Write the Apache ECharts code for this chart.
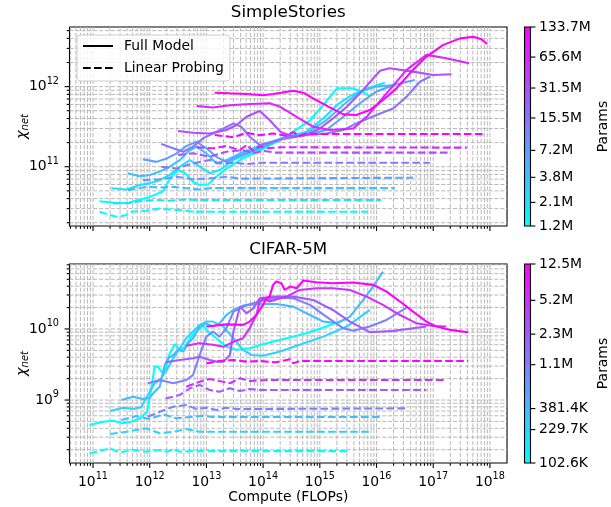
<!DOCTYPE html>
<html><head><meta charset="utf-8">
<script src="https://cdn.jsdelivr.net/npm/echarts@6/dist/echarts.min.js"></script>
<style>html,body{margin:0;padding:0;background:#fff}#c{width:611px;height:507px}</style>
</head><body><div id="c"></div><script>
const FONT = 'DejaVu Sans';
const FS = 13.9;
const GRID_COLOR = '#b9b9b9';
const LW = 2.08;

// ---------------- SimpleStories ----------------
const ssParams = [1.2e6, 2.1e6, 3.8e6, 7.2e6, 15.5e6, 31.5e6, 65.6e6, 133.7e6];
const ssParamLabels = ['1.2M', '2.1M', '3.8M', '7.2M', '15.5M', '31.5M', '65.6M', '133.7M'];

const ssFull_1_2M = [[1.3e11,3.7e10],[2.4e11,3.55e10],[4.1e11,3.5e10],[5.8e11,3.8e10],[1e12,4.2e10],[1.7e12,4.9e10],[2.4e12,7.5e10],[3.2e12,9.1e10],[4.2e12,8.3e10],[5.8e12,6.5e10],[7.6e12,5.9e10],[1.07e13,6e10],[1.5e13,7.5e10],[2.25e13,9.5e10],[4.4e13,1.27e11],[8.7e13,1.58e11],[1.7e14,2.05e11],[3.4e14,2.75e11],[6.7e14,3.8e11],[1.15e15,5.9e11],[2e15,9.5e11],[3.9e15,9.5e11],[5.4e15,8.7e11],[7.6e15,7.6e11]];
const ssFull_2_1M = [[2.1e11,5.4e10],[3.9e11,5.2e10],[6.7e11,5.9e10],[1e12,6.2e10],[1.5e12,6.8e10],[2.25e12,7.9e10],[3.4e12,1e11],[5.1e12,1.21e11],[7.6e12,1e11],[1.15e13,8.3e10],[1.72e13,9.1e10],[2.96e13,1.21e11],[5.8e13,1.47e11],[1.15e14,1.81e11],[2.6e14,2.37e11],[5.8e14,2.74e11],[1.15e15,4e11],[2e15,5.9e11],[3.4e15,7.6e11],[6.7e15,9.5e11],[1.4e16,1.12e12]];
const ssFull_3_8M = [[4.1e11,8.3e10],[6.7e11,7.6e10],[1e12,7.9e10],[1.5e12,8.7e10],[2.25e12,1e11],[3.4e12,1.21e11],[4.7e12,1.54e11],[6.7e12,1.78e11],[1e13,1.47e11],[1.5e13,1.1e11],[2.25e13,1.21e11],[3.9e13,1.47e11],[6.7e13,1.7e11],[1.15e14,1.96e11],[2.6e14,2.37e11],[5.8e14,2.6e11],[1.3e15,3.8e11],[2.6e15,5.9e11],[5.1e15,8.7e11],[1e16,1e12],[2.1e16,1.05e12]];
const ssFull_7_2M = [[7.6e11,1.24e11],[1.3e12,1.15e11],[2e12,1.27e11],[3e12,1.47e11],[4.4e12,1.81e11],[6.7e12,2.05e11],[1e13,1.7e11],[1.5e13,1.33e11],[2.25e13,1.15e11],[3.4e13,1.33e11],[5.8e13,1.54e11],[1.15e14,1.87e11],[2.6e14,2.37e11],[5.8e14,2.49e11],[1.3e15,2.87e11],[2.6e15,4.2e11],[5.1e15,6.2e11],[1e16,8.7e11],[2e16,1.05e12],[4.7e16,1.21e12]];
const ssFull_15_5M = [[1.6e12,1.92e11],[2.6e12,1.7e11],[3.9e12,1.54e11],[5.8e12,1.78e11],[8.7e12,2.26e11],[1.3e13,2.6e11],[2e13,3e11],[3e13,3.48e11],[4.1e13,3.16e11],[5.8e13,2.37e11],[8.7e13,1.87e11],[1.3e14,2e11],[2.6e14,2.26e11],[5.8e14,2.49e11],[1.3e15,2.6e11],[2.6e15,2.87e11],[5.1e15,3.65e11],[1e16,4.43e11],[2e16,5.36e11],[3.4e16,7.5e11],[5.8e16,1.15e12],[8.7e16,1.33e12]];
const ssFull_31_5M = [[3.16e12,2.79e11],[5.8e12,2.66e11],[1.15e13,2.6e11],[2.25e13,2.87e11],[3.4e13,3.32e11],[5.1e13,4.2e11],[8.7e13,4.97e11],[1.3e14,3.83e11],[2e14,2.74e11],[3.4e14,2.37e11],[5.8e14,2.49e11],[1e15,3e11],[1.7e15,4e11],[3e15,5.6e11],[5.8e15,9.1e11],[1.15e16,1.58e12],[1.7e16,1.7e12],[4.4e16,1.54e12],[1e17,1.4e12],[2.1e17,1.43e12]];
const ssFull_65_6M = [[6.7e12,5.73e11],[1.3e13,5.5e11],[2.6e13,5.84e11],[5.8e13,6.07e11],[1.3e14,6.2e11],[2e14,5.6e11],[3.9e14,4.2e11],[7.6e14,3.16e11],[1.5e15,2.87e11],[3.9e15,3e11],[6.7e15,4.2e11],[1.5e16,8.25e11],[3.4e16,1.62e12],[7.6e16,2.49e12],[1.7e17,2.26e12],[4.3e17,1.96e12]];
const ssFull_133_7M = [[1.4e13,8.4e11],[2.6e13,8.25e11],[5.1e13,8.1e11],[1e14,7.8e11],[1.5e14,8.1e11],[3.4e14,8.9e11],[5.1e14,8.4e11],[7.6e14,7.15e11],[1.5e15,5.5e11],[2.6e15,4.5e11],[4.4e15,4.43e11],[7.6e15,5.1e11],[1.3e16,6.8e11],[2.25e16,9.5e11],[4.4e16,1.62e12],[7.6e16,2.37e12],[1.5e17,3.32e12],[3e17,4e12],[5.1e17,4.2e12],[7.1e17,3.9e12],[8.9e17,3.4e12]];

const ssProbe_1_2M = [[1.3e11,2.74e10],[2e11,2.49e10],[2.6e11,2.37e10],[3.9e11,2.49e10],[4.7e11,2.74e10],[8.7e11,2.82e10],[1.5e12,3e10],[2.25e12,2.93e10],[3.9e12,2.87e10],[5.8e12,2.74e10],[7.1e15,2.74e10]];
const ssProbe_2_1M = [[2.25e11,3.48e10],[4.4e11,3.55e10],[7.6e11,3.73e10],[1.3e12,3.83e10],[2.25e12,3.76e10],[4.4e12,3.9e10],[7.6e12,3.83e10],[1.2e16,3.83e10]];
const ssProbe_3_8M = [[4.1e11,5.1e10],[8.7e11,5.6e10],[1.5e12,5.5e10],[2.6e12,5.6e10],[4.4e12,5.4e10],[7.6e12,5.2e10],[1.15e13,5.4e10],[2.1e16,5.4e10]];
const ssProbe_7_2M = [[7.6e11,6.8e10],[1.5e12,6.95e10],[3e12,7.5e10],[5.8e12,6.95e10],[1.15e13,7.15e10],[2.25e13,7.5e10],[3.9e13,7.1e10],[4.4e16,7.3e10]];
const ssProbe_15_5M = [[1.6e12,1e11],[3e12,9.5e10],[5.8e12,1.1e11],[1.15e13,1.21e11],[1.7e13,1.1e11],[3e13,1.12e11],[5.1e13,1.08e11],[8.7e13,1.12e11],[8.7e16,1.12e11]];
const ssProbe_31_5M = [[3.16e12,1.4e11],[5.8e12,1.47e11],[1.15e13,1.33e11],[2.25e13,1.54e11],[4.4e13,1.61e11],[6.7e13,1.47e11],[1e14,1.58e11],[1.7e14,1.5e11],[2e17,1.5e11]];
const ssProbe_65_6M = [[6.7e12,1.75e11],[1.3e13,1.7e11],[2.25e13,1.81e11],[3.9e13,1.61e11],[5.1e13,1.87e11],[6.7e13,1.58e11],[8.7e13,1.81e11],[1.15e14,1.7e11],[2e14,1.75e11],[3.9e17,1.73e11]];
const ssProbe_133_7M = [[1.4e13,2.49e11],[3e13,2.33e11],[5.1e13,2.66e11],[8.7e13,2.47e11],[1.5e14,2.6e11],[2.6e14,2.43e11],[3.4e14,2.7e11],[4.4e14,2.43e11],[5.8e14,2.6e11],[7.6e14,2.56e11],[8.2e17,2.56e11]];

const ssFull = [ssFull_1_2M, ssFull_2_1M, ssFull_3_8M, ssFull_7_2M, ssFull_15_5M, ssFull_31_5M, ssFull_65_6M, ssFull_133_7M];
const ssProbe = [ssProbe_1_2M, ssProbe_2_1M, ssProbe_3_8M, ssProbe_7_2M, ssProbe_15_5M, ssProbe_31_5M, ssProbe_65_6M, ssProbe_133_7M];

// ---------------- CIFAR-5M ----------------
const cfParams = [102.6e3, 229.7e3, 381.4e3, 1.1e6, 2.3e6, 5.2e6, 12.5e6];
const cfParamLabels = ['102.6K', '229.7K', '381.4K', '1.1M', '2.3M', '5.2M', '12.5M'];

const cfFull_102_6K = [[8.7e10,4.45e8],[1.5e11,4.95e8],[2.25e11,5.1e8],[3.4e11,4.7e8],[4.7e11,4.95e8],[6.7e11,5.5e8],[9e11,6.85e8],[1.07e12,1.46e9],[1.22e12,2.95e9],[1.4e12,2.95e9],[1.6e12,2.5e9],[1.9e12,2.65e9],[2.25e12,4.5e9],[2.76e12,6.1e9],[3.4e12,5.1e9],[4.15e12,5.6e9],[5.4e12,7.8e9],[7.1e12,9.7e9],[8.7e12,1.11e10],[1.07e13,9.2e9],[1.5e13,7.4e9],[2.25e13,5.6e9],[3.4e13,5.1e9],[5.8e13,5.35e9],[1.15e14,6.3e9],[2.6e14,7.4e9],[5.8e14,8.7e9],[1.3e15,1.08e10],[3.16e15,1.41e10]];
const cfFull_229_7K = [[2e11,7e8],[3.4e11,7.8e8],[5.1e11,7.5e8],[7.1e11,8e8],[9.3e11,1.18e9],[1.22e12,1.72e9],[1.5e12,1.91e9],[2e12,2.65e9],[2.6e12,3.86e9],[3.4e12,5.35e9],[4.4e12,7.4e9],[5.8e12,9.2e9],[7.6e12,1.14e10],[1e13,1.27e10],[1.3e13,1.27e10],[2e13,1.08e10],[3e13,7.4e9],[4.4e13,5.1e9],[6.2e13,4.3e9],[1e14,4.2e9],[2e14,4.8e9],[4.4e14,6e9],[1.15e15,7.8e9],[3e15,1.08e10],[7.6e15,1.85e10]];
const cfFull_381_4K = [[3.16e11,1e9],[5.1e11,1.11e9],[7.6e11,1.03e9],[1e12,1.08e9],[1.22e12,1.31e9],[1.5e12,1.54e9],[1.84e12,3.1e9],[2.1e12,3.86e9],[2.6e12,4.3e9],[3.16e12,5.1e9],[3.9e12,4.8e9],[4.75e12,6.3e9],[5.8e12,7.4e9],[7.6e12,1.08e10],[1e13,1.2e10],[1.3e13,1.08e10],[1.7e13,1.2e10],[2.25e13,1.57e10],[3e13,1.85e10],[4.4e13,2.13e10],[8.7e13,2.25e10],[1.7e14,2.25e10],[3.4e14,2.06e10],[6.7e14,1.57e10],[1.15e15,1.27e10],[2e15,1.2e10],[3.4e15,1.49e10],[5.8e15,2.56e10],[8.7e15,3.95e10],[1.3e16,6.4e10]];
const cfFull_1_1M = [[9.3e11,1.72e9],[1.5e12,1.91e9],[2.6e12,1.72e9],[4.4e12,1.91e9],[5.8e12,2.25e9],[7.6e12,4.3e9],[1e13,7.8e9],[1.3e13,9.2e9],[1.7e13,7.8e9],[2.25e13,1.02e10],[3e13,1.75e10],[3.9e13,1.95e10],[5.1e13,2.18e10],[8.7e13,2.43e10],[1.7e14,2.76e10],[3.4e14,2.7e10],[6.7e14,2.18e10],[1.3e15,1.49e10],[2.6e15,1.02e10],[3.9e15,9.4e9],[7.6e15,1.08e10],[1.5e16,1.34e10],[3.4e16,2e10]];
const cfFull_2_3M = [[1.9e12,3.4e9],[3.4e12,3.66e9],[5.8e12,3.86e9],[7.6e12,4.07e9],[1.15e13,3.66e9],[1.5e13,3.47e9],[2e13,3.47e9],[2.6e13,4.3e9],[3e13,9.2e9],[3.9e13,2.06e10],[5.1e13,1.66e10],[6.7e13,1.95e10],[8.7e13,2.7e10],[1.5e14,2.85e10],[3.4e14,2.85e10],[7.6e14,2.56e10],[1.7e15,1.85e10],[3.4e15,1.27e10],[7.6e15,9e9],[2e16,9.4e9],[7.6e16,1.08e10]];
const cfFull_5_2M = [[4.4e12,5.8e9],[7.6e12,6.3e9],[1.3e13,6e9],[2e13,5.6e9],[3e13,6.6e9],[4.4e13,7.4e9],[5.8e13,1.02e10],[7.6e13,1.57e10],[8.7e13,2.43e10],[1e14,2.7e10],[1.3e14,2.43e10],[2e14,2.7e10],[2.6e14,2.85e10],[4.4e14,3.54e10],[8.7e14,3.74e10],[1.7e15,3.74e10],[3.4e15,3.54e10],[6.7e15,2.85e10],[1.3e16,2.18e10],[2.6e16,1.57e10],[5.1e16,1.2e10],[1e17,1.1e10],[1.7e17,1.08e10]];
const cfFull_12_5M = [[1e13,1.08e10],[2.25e13,1.16e10],[4.4e13,1.14e10],[5.8e13,1.27e10],[7.6e13,1.57e10],[1e14,2.18e10],[1.15e14,2.7e10],[1.3e14,2.85e10],[1.5e14,4.17e10],[1.7e14,4.64e10],[2.1e14,4.4e10],[2.4e14,3.54e10],[3e14,3.95e10],[3.9e14,3.74e10],[5.1e14,4.8e10],[8.7e14,4.54e10],[1.7e15,4.4e10],[3.9e15,4.5e10],[8.7e15,4.17e10],[1.5e16,3.36e10],[2.6e16,2.43e10],[4.4e16,1.75e10],[7.6e16,1.27e10],[1.15e17,1.08e10],[2e17,9.7e9],[4.15e17,9e9]];

const cfProbe_102_6K = [[8.7e10,1.77e8],[1.5e11,1.98e8],[2e11,2.08e8],[2.96e11,1.83e8],[5.1e11,1.98e8],[8.7e11,1.87e8],[1.5e12,1.98e8],[2e12,1.87e8],[2.6e12,2.04e8],[3.4e12,1.87e8],[5.8e12,1.91e8],[3.16e15,1.91e8]];
const cfProbe_229_7K = [[2e11,3.32e8],[3.9e11,3.58e8],[8.7e11,3.99e8],[1.5e12,3.4e8],[2.6e12,3.58e8],[4.4e12,3.9e8],[7.6e12,3.58e8],[7.6e15,3.58e8]];
const cfProbe_381_4K = [[3.16e11,5.23e8],[5.8e11,5.96e8],[1e12,5.4e8],[1.72e12,6.28e8],[2.96e12,5.52e8],[5.8e12,5.82e8],[8.7e12,6e8],[1.3e13,5.77e8],[1.3e16,5.77e8]];
const cfProbe_1_1M = [[9.3e11,5.82e8],[1.5e12,6.85e8],[2.6e12,8.05e8],[4.4e12,8.5e8],[6.7e12,7.46e8],[1e13,7.8e8],[1.5e13,7.23e8],[2.25e13,7.8e8],[3.4e13,7.46e8],[3.4e16,7.64e8]];
const cfProbe_2_3M = [[1.9e12,1.05e9],[3.4e12,1.18e9],[5.1e12,1.46e9],[7.6e12,1.63e9],[1.15e13,1.38e9],[1.7e13,1.31e9],[2.6e13,1.46e9],[3.9e13,1.34e9],[5.8e13,1.43e9],[8.7e13,1.38e9],[7.6e16,1.38e9]];
const cfProbe_5_2M = [[4.4e12,1.54e9],[7.6e12,1.81e9],[1.15e13,1.98e9],[1.7e13,1.85e9],[2.6e13,1.72e9],[3.9e13,2.02e9],[5.8e13,1.85e9],[1.15e14,1.91e9],[1.7e17,1.91e9]];
const cfProbe_12_5M = [[1e13,3.28e9],[1.7e13,3.54e9],[3e13,3.66e9],[5.1e13,3.47e9],[8.7e13,3.54e9],[1.7e14,3.4e9],[3e14,3.75e9],[3.4e14,3.28e9],[4.4e14,3.54e9],[4.15e17,3.54e9]];

const cfFull = [cfFull_102_6K, cfFull_229_7K, cfFull_381_4K, cfFull_1_1M, cfFull_2_3M, cfFull_5_2M, cfFull_12_5M];
const cfProbe = [cfProbe_102_6K, cfProbe_229_7K, cfProbe_381_4K, cfProbe_1_1M, cfProbe_2_3M, cfProbe_5_2M, cfProbe_12_5M];

// ---------------- axes / ticks ----------------
const xTickValues = [1e11, 1e12, 1e13, 1e14, 1e15, 1e16, 1e17, 1e18];
const xTickExps = ['11', '12', '13', '14', '15', '16', '17', '18'];
const ssYTickValues = [1e11, 1e12];
const ssYTickExps = ['11', '12'];
const cfYTickValues = [1e9, 1e10];
const cfYTickExps = ['9', '10'];

const X_MIN = 3.85e10, X_MAX = 2.0e18;
const SS_Y_MIN = 1.82e10, SS_Y_MAX = 5.55e12;
const CF_Y_MIN = 1.3e8, CF_Y_MAX = 8.2e10;

function minorTicks(min, max) {
  const out = [];
  for (let e = Math.floor(Math.log10(min)); e <= Math.ceil(Math.log10(max)); e++) {
    for (let m = 2; m <= 9; m++) {
      const v = m * Math.pow(10, e);
      if (v > min * 1.002 && v < max * 0.998) out.push(v);
    }
  }
  return out;
}

function coolColor(p, params) {
  const t = Math.log(p / params[0]) / Math.log(params[params.length - 1] / params[0]);
  return 'rgb(' + Math.round(255 * t) + ',' + Math.round(255 * (1 - t)) + ',255)';
}

const supRich = {
  b: { fontSize: FS, fontFamily: FONT, fill: '#000' },
  s: { fontSize: 9.7, fontFamily: FONT, fill: '#000', padding: [0, 0, 11, 0] }
};
const GRID_STYLE = { stroke: GRID_COLOR, lineWidth: 1.0, lineDash: [4.1, 1.8] };
const TICK_STYLE = { stroke: '#000', lineWidth: 1.1 };

function xFrame(gi, yRef, showLabels) {
  const items = xTickValues.map((v, i) => ({ v: v, major: true, exp: xTickExps[i] }))
    .concat(minorTicks(X_MIN, X_MAX).map(v => ({ v: v, major: false })));
  return {
    type: 'custom', xAxisIndex: gi, yAxisIndex: gi, silent: true, clip: false, z: 1, animation: false,
    data: items.map(o => [o.v, yRef]),
    renderItem: function (params, api) {
      const o = items[params.dataIndex];
      const cs = params.coordSys;
      const x = api.coord([o.v, yRef])[0];
      const bottom = cs.y + cs.height;
      const len = o.major ? 4.9 : 2.8;
      const ch = [
        { type: 'line', shape: { x1: x, y1: cs.y, x2: x, y2: bottom }, style: GRID_STYLE },
        { type: 'line', shape: { x1: x, y1: bottom, x2: x, y2: bottom + len }, style: TICK_STYLE }
      ];
      if (o.major && showLabels) {
        ch.push({ type: 'text', x: x, y: bottom + 19, style: { text: '{b|10}{s|' + o.exp + '}', rich: supRich, align: 'center', verticalAlign: 'middle' } });
      }
      return { type: 'group', children: ch };
    }
  };
}

function yFrame(gi, ymin, ymax, majors, exps) {
  const items = majors.map((v, i) => ({ v: v, major: true, exp: exps[i] }))
    .concat(minorTicks(ymin, ymax).map(v => ({ v: v, major: false })));
  return {
    type: 'custom', xAxisIndex: gi, yAxisIndex: gi, silent: true, clip: false, z: 1, animation: false,
    data: items.map(o => [X_MIN, o.v]),
    renderItem: function (params, api) {
      const o = items[params.dataIndex];
      const cs = params.coordSys;
      const y = api.coord([X_MIN, o.v])[1];
      const len = o.major ? 4.9 : 2.8;
      const ch = [
        { type: 'line', shape: { x1: cs.x, y1: y, x2: cs.x + cs.width, y2: y }, style: GRID_STYLE },
        { type: 'line', shape: { x1: cs.x - len, y1: y, x2: cs.x, y2: y }, style: TICK_STYLE }
      ];
      if (o.major) {
        ch.push({ type: 'text', x: cs.x - 10.5, y: y, style: { text: '{b|10}{s|' + o.exp + '}', rich: supRich, align: 'right', verticalAlign: 'middle' } });
      }
      return { type: 'group', children: ch };
    }
  };
}

function colorbar(gi, params, labels) {
  return [
    {
      type: 'custom', xAxisIndex: gi, yAxisIndex: gi, silent: true, clip: false, z: 1, animation: false,
      data: [[0.5, params[0]]],
      renderItem: function (p, api) {
        const cs = p.coordSys;
        return {
          type: 'rect', shape: { x: cs.x, y: cs.y, width: cs.width, height: cs.height },
          style: {
            fill: new echarts.graphic.LinearGradient(0, 1, 0, 0, [{ offset: 0, color: 'rgb(0,255,255)' }, { offset: 1, color: 'rgb(255,0,255)' }]),
            stroke: '#000', lineWidth: 1.1
          }
        };
      }
    },
    {
      type: 'custom', xAxisIndex: gi, yAxisIndex: gi, silent: true, clip: false, z: 2, animation: false,
      data: params.map(v => [1, v]),
      renderItem: function (p, api) {
        const cs = p.coordSys;
        const y = api.coord([1, params[p.dataIndex]])[1];
        const xr = cs.x + cs.width;
        return {
          type: 'group', children: [
            { type: 'line', shape: { x1: xr, y1: y, x2: xr + 4.9, y2: y }, style: TICK_STYLE },
            { type: 'text', x: xr + 8.6, y: y, style: { text: labels[p.dataIndex], fontSize: FS, fontFamily: FONT, fill: '#000', align: 'left', verticalAlign: 'middle' } }
          ]
        };
      }
    }
  ];
}

function lineSeries(gi, data, color, dashed, name) {
  return {
    type: 'line', name: name, xAxisIndex: gi, yAxisIndex: gi, data: data,
    symbol: 'none', showSymbol: false, silent: true, animation: false, z: 3,
    lineStyle: { width: LW, color: color, type: dashed ? [7.7, 3.3] : 'solid' },
    itemStyle: { color: color },
    emphasis: { disabled: true }
  };
}

const series = [];
series.push(xFrame(0, SS_Y_MIN, false));
series.push(yFrame(0, SS_Y_MIN, SS_Y_MAX, ssYTickValues, ssYTickExps));
series.push(xFrame(1, CF_Y_MIN, true));
series.push(yFrame(1, CF_Y_MIN, CF_Y_MAX, cfYTickValues, cfYTickExps));
colorbar(2, ssParams, ssParamLabels).forEach(s => series.push(s));
colorbar(3, cfParams, cfParamLabels).forEach(s => series.push(s));

ssParams.forEach((p, i) => {
  const c = coolColor(p, ssParams);
  series.push(lineSeries(0, ssFull[i], c, false, 'ss-full-' + ssParamLabels[i]));
  series.push(lineSeries(0, ssProbe[i], c, true, 'ss-probe-' + ssParamLabels[i]));
});
cfParams.forEach((p, i) => {
  const c = coolColor(p, cfParams);
  series.push(lineSeries(1, cfFull[i], c, false, 'cf-full-' + cfParamLabels[i]));
  series.push(lineSeries(1, cfProbe[i], c, true, 'cf-probe-' + cfParamLabels[i]));
});
series.push(lineSeries(0, [], '#000', false, 'Full Model'));
series.push(lineSeries(0, [], '#000', true, 'Linear Probing'));

const chiRich = {
  c: { fontSize: 14.5, fontStyle: 'italic', fontFamily: FONT, fill: '#000' },
  n: { fontSize: 10, fontStyle: 'italic', fontFamily: FONT, fill: '#000', padding: [7, 0, 0, 0] }
};

const option = {
  backgroundColor: '#fff',
  animation: false,
  textStyle: { fontFamily: FONT },
  grid: [
    { left: 69.5, top: 27, width: 437.5, height: 199, show: true, borderColor: '#000', borderWidth: 1.1, backgroundColor: 'transparent', containLabel: false },
    { left: 69.5, top: 264, width: 437.5, height: 199, show: true, borderColor: '#000', borderWidth: 1.1, backgroundColor: 'transparent', containLabel: false },
    { left: 524.5, top: 27, width: 6, height: 199, show: false },
    { left: 524.5, top: 264, width: 6, height: 199, show: false }
  ],
  xAxis: [
    { gridIndex: 0, type: 'log', logBase: 10, min: X_MIN, max: X_MAX, show: false },
    { gridIndex: 1, type: 'log', logBase: 10, min: X_MIN, max: X_MAX, show: false },
    { gridIndex: 2, type: 'value', min: 0, max: 1, show: false },
    { gridIndex: 3, type: 'value', min: 0, max: 1, show: false }
  ],
  yAxis: [
    { gridIndex: 0, type: 'log', logBase: 10, min: SS_Y_MIN, max: SS_Y_MAX, show: false },
    { gridIndex: 1, type: 'log', logBase: 10, min: CF_Y_MIN, max: CF_Y_MAX, show: false },
    { gridIndex: 2, type: 'log', logBase: 10, min: ssParams[0], max: ssParams[ssParams.length - 1], show: false },
    { gridIndex: 3, type: 'log', logBase: 10, min: cfParams[0], max: cfParams[cfParams.length - 1], show: false }
  ],
  legend: {
    data: ['Full Model', 'Linear Probing'],
    left: 77, top: 35, orient: 'vertical',
    padding: [4, 6, 6, 5], itemGap: 8, itemWidth: 30, itemHeight: 14,
    backgroundColor: 'rgba(255,255,255,0.8)', borderColor: '#cccccc', borderWidth: 1, borderRadius: 3,
    selectedMode: false,
    itemStyle: { color: 'rgba(0,0,0,0)', borderColor: 'rgba(0,0,0,0)', borderWidth: 0, opacity: 0 },
    textStyle: { fontSize: FS, fontFamily: FONT, color: '#000', padding: [0, 0, 0, 6] }
  },
  graphic: [
    { type: 'text', x: 288.25, y: 12.5, style: { text: 'SimpleStories', fontSize: 16.7, fontFamily: FONT, fill: '#000', align: 'center', verticalAlign: 'middle' } },
    { type: 'text', x: 288.25, y: 250, style: { text: 'CIFAR-5M', fontSize: 16.7, fontFamily: FONT, fill: '#000', align: 'center', verticalAlign: 'middle' } },
    { type: 'text', x: 288.25, y: 497, style: { text: 'Compute (FLOPs)', fontSize: FS, fontFamily: FONT, fill: '#000', align: 'center', verticalAlign: 'middle' } },
    { type: 'text', x: 22, y: 126.5, rotation: Math.PI / 2, style: { text: '{c|χ}{n|net}', rich: chiRich, align: 'center', verticalAlign: 'middle' } },
    { type: 'text', x: 22, y: 363.5, rotation: Math.PI / 2, style: { text: '{c|χ}{n|net}', rich: chiRich, align: 'center', verticalAlign: 'middle' } },
    { type: 'text', x: 603, y: 126.5, rotation: Math.PI / 2, style: { text: 'Params', fontSize: FS, fontFamily: FONT, fill: '#000', align: 'center', verticalAlign: 'middle' } },
    { type: 'text', x: 603, y: 363.5, rotation: Math.PI / 2, style: { text: 'Params', fontSize: FS, fontFamily: FONT, fill: '#000', align: 'center', verticalAlign: 'middle' } }
  ],
  series: series
};

const chart = echarts.init(document.getElementById('c'), null, { renderer: 'canvas' });
chart.setOption(option);
</script></body></html>
